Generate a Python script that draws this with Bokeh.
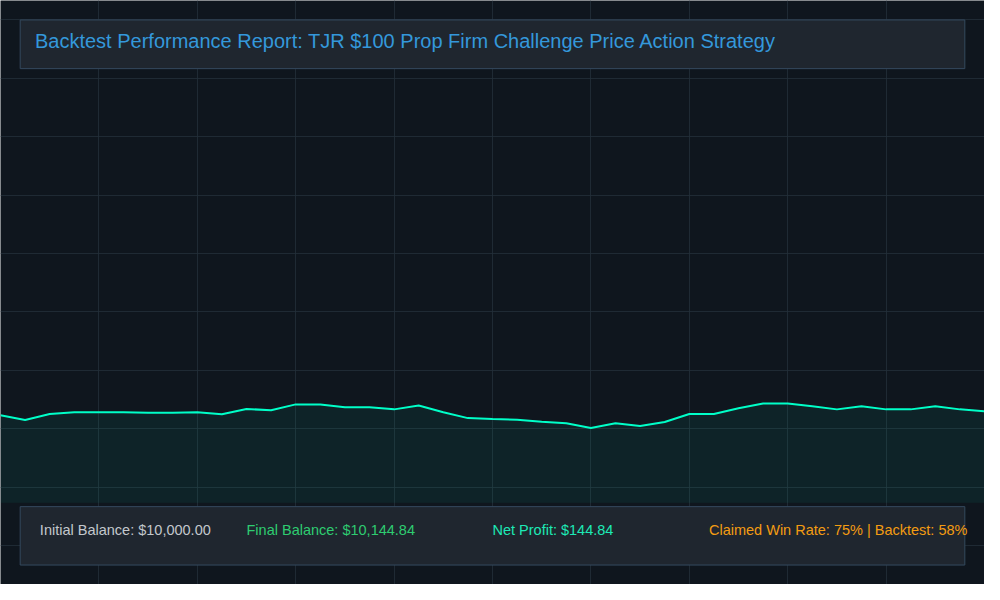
from bokeh.plotting import figure
from bokeh.models import ColumnDataSource, Range1d, BoxAnnotation, Label, FixedTicker
from bokeh.embed import file_html
from bokeh.resources import INLINE

# equity curve, one point per trading day
days = list(range(41))
equity = [10000, 9820, 10045, 10110, 10110, 10110, 10085, 10085, 10110, 10035,
          10230, 10180, 10400, 10400, 10290, 10290, 10215, 10360, 10110, 9890,
          9855, 9830, 9755, 9700, 9520, 9700, 9600, 9745, 10045, 10045,
          10255, 10435, 10435, 10335, 10215, 10335, 10215, 10215, 10335, 10215,
          10144.84]

title_text = "Backtest Performance Report: TJR $100 Prop Firm Challenge Price Action Strategy"
initial_balance = 10000.00
final_balance = 10144.84
claimed_win_rate = 75
backtest_win_rate = 58

W, H = 984, 584
X0, X1 = 0, 40
Y0, Y1 = 3700, 25425
AREA_BASE = 6740

BG = "#0f161e"
PANEL = "#1f262f"
PANEL_EDGE = "#34495e"
LINE = "#00ffc8"
FONT = "Liberation Sans"


def fx(f):
    # fraction of canvas width -> data x
    return X0 + f * (X1 - X0)


def fy(f):
    # fraction of canvas height from top -> data y
    return Y1 - f * (Y1 - Y0)


src = ColumnDataSource(dict(day=days, equity=equity))

p = figure(width=W, height=H, x_range=Range1d(X0, X1), y_range=Range1d(Y0, Y1),
           x_axis_location=None, y_axis_location=None,
           toolbar_location=None, output_backend="svg", min_border=0)
p.background_fill_color = BG
p.border_fill_color = BG
p.outline_line_color = None

p.xgrid.ticker = FixedTicker(ticks=[fx(k / 10) for k in range(11)])
p.ygrid.ticker = FixedTicker(ticks=[fy((20 + 60 * k) / 600) for k in range(10)])
p.grid.grid_line_color = "#233039"
p.grid.grid_line_alpha = 0.8
p.grid.grid_line_width = 1

p.varea(x="day", y1=AREA_BASE, y2="equity", source=src,
        fill_color=LINE, fill_alpha=0.06)
p.line(x="day", y="equity", source=src, line_color=LINE, line_width=2)


def panel(top, bottom):
    return BoxAnnotation(left=fx(0.02), right=fx(0.98), top=fy(top), bottom=fy(bottom),
                         fill_color=PANEL, fill_alpha=1,
                         line_color=PANEL_EDGE, line_alpha=1, line_width=1)


# title panel
p.add_layout(panel(20 / 600, 70 / 600))
p.add_layout(Label(x=fx(0.035), y=fy(42 / 600), text=title_text, text_font=FONT,
                   text_font_size="20px", text_color="#3498db", text_baseline="middle"))

# stats panel
p.add_layout(panel(520 / 600, 580 / 600))
net_profit = final_balance - initial_balance
stats = [
    (0.040, f"Initial Balance: ${initial_balance:,.2f}", "#c3c8cd"),
    (0.250, f"Final Balance: ${final_balance:,.2f}", "#2ecc71"),
    (0.500, f"Net Profit: ${net_profit:,.2f}", "#1de9b6"),
    (0.720, f"Claimed Win Rate: {claimed_win_rate}% | Backtest: {backtest_win_rate}%", "#f39c12"),
]
for fxx, txt, col in stats:
    p.add_layout(Label(x=fx(fxx), y=fy(544 / 600), text=txt, text_font=FONT,
                       text_font_size="14.5px", text_color=col, text_baseline="middle"))

open("out.html", "w").write(file_html(p, INLINE))
